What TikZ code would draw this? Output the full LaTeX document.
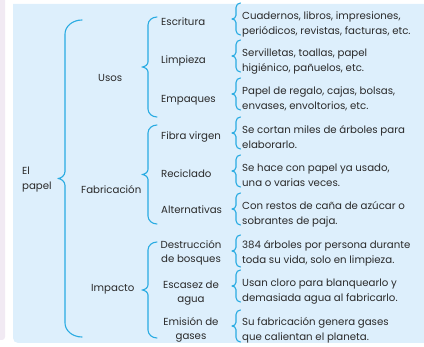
\documentclass[tikz,border=0pt]{standalone}
\usepackage{fontspec}
\setmainfont{Poppins}
\definecolor{bgblue}{HTML}{DDEFFC}
\definecolor{bgpink}{HTML}{F1EAF3}
\definecolor{brc}{HTML}{29ABE2}
\definecolor{txt}{HTML}{2A2A2A}
\newcommand{\cbrdraw}[7]{%
 \draw[bracestyle] ({#1+#4},{#2}) .. controls ({#1+0.448*#4},{#2}) and ({#1},{#2+0.448*#5}) .. ({#1},{#2+#5})
 -- ({#1},{(#2+#3)/2-#7}) .. controls ({#1},{(#2+#3)/2-0.4*#7}) and ({#1-0.6*#6},{(#2+#3)/2}) .. ({#1-#6},{(#2+#3)/2})
 .. controls ({#1-0.6*#6},{(#2+#3)/2}) and ({#1},{(#2+#3)/2+0.4*#7}) .. ({#1},{(#2+#3)/2+#7})
 -- ({#1},{#3-#5}) .. controls ({#1},{#3-0.448*#5}) and ({#1+0.448*#4},{#3}) .. ({#1+#4},{#3});}
\begin{document}
\begin{tikzpicture}[x=1pt,y=-1pt,
  bracestyle/.style={draw=brc, line width=1.1pt, line cap=round, line join=round},
  lbl/.style={font=\fontsize{10.2}{15}\selectfont, text=txt, inner sep=0pt},
  clbl/.style={font=\fontsize{10.2}{14}\selectfont, text=txt, inner sep=0pt},
  desc/.style={lbl, anchor=base west},
  item/.style={lbl, anchor=base west},
  citem/.style={clbl, anchor=base}]
\useasboundingbox (0,0) rectangle (424,347);
\fill[bgpink, rounded corners=3] (-6,-6) rectangle (5,340);
\fill[bgblue] (432,4) -- (13,4) [rounded corners=5] -- (13,343) -- (432,343) -- cycle;
% braces
\cbrdraw{65}{20}{337}{17}{14}{7}{7}
\cbrdraw{148}{17}{117}{9}{8}{6}{5}
\cbrdraw{148}{125}{224}{9}{8}{6}{5}
\cbrdraw{148}{242}{338}{9}{8}{6}{5}
\foreach \m in {19,56,94,133,171,209,251,286,326}{
  \cbrdraw{236}{\m-16}{\m+16}{4.5}{4.5}{4}{3.5}
}
% root
\node[lbl, anchor=base west] (root) at (22,175) {\begin{tabular}[t]{@{}l@{}}El\\papel\end{tabular}};
% groups
\node[item] (usos) at (98,82) {Usos};
\node[item] (fab) at (81,194) {Fabricación};
\node[item] (imp) at (91,292) {Impacto};
% items
\node[item] (esc) at (161,26) {Escritura};
\node[item] (lim) at (161,64) {Limpieza};
\node[item] (emp) at (161,103) {Empaques};
\node[item] (fib) at (161,140) {Fibra virgen};
\node[item] (rec) at (161,178) {Reciclado};
\node[item] (alt) at (161,214) {Alternativas};
\node[citem] (des) at (191,249) {\begin{tabular}[t]{@{}c@{}}Destrucción\\de bosques\end{tabular}};
\node[citem] (esca) at (191,289) {\begin{tabular}[t]{@{}c@{}}Escasez de\\agua\end{tabular}};
\node[citem] (emi) at (191,326) {\begin{tabular}[t]{@{}c@{}}Emisión de\\gases\end{tabular}};
% descriptions
\node[desc] (d1) at (242,20) {\begin{tabular}[t]{@{}l@{}}Cuadernos, libros, impresiones,\\periódicos, revistas, facturas, etc.\end{tabular}};
\node[desc] (d2) at (242,57) {\begin{tabular}[t]{@{}l@{}}Servilletas, toallas, papel\\higiénico, pañuelos, etc.\end{tabular}};
\node[desc] (d3) at (242,95) {\begin{tabular}[t]{@{}l@{}}Papel de regalo, cajas, bolsas,\\envases, envoltorios, etc.\end{tabular}};
\node[desc] (d4) at (242,134) {\begin{tabular}[t]{@{}l@{}}Se cortan miles de árboles para\\elaborarlo.\end{tabular}};
\node[desc] (d5) at (242,172) {\begin{tabular}[t]{@{}l@{}}Se hace con papel ya usado,\\una o varias veces.\end{tabular}};
\node[desc] (d6) at (242,210) {\begin{tabular}[t]{@{}l@{}}Con restos de caña de azúcar o\\sobrantes de paja.\end{tabular}};
\node[desc] (d7) at (242,249) {\begin{tabular}[t]{@{}l@{}}384 árboles por persona durante\\toda su vida, solo en limpieza.\end{tabular}};
\node[desc] (d8) at (242,287) {\begin{tabular}[t]{@{}l@{}}Usan cloro para blanquearlo y\\demasiada agua al fabricarlo.\end{tabular}};
\node[desc] (d9) at (242,326) {\begin{tabular}[t]{@{}l@{}}Su fabricación genera gases\\que calientan el planeta.\end{tabular}};
\end{tikzpicture}
\end{document}
